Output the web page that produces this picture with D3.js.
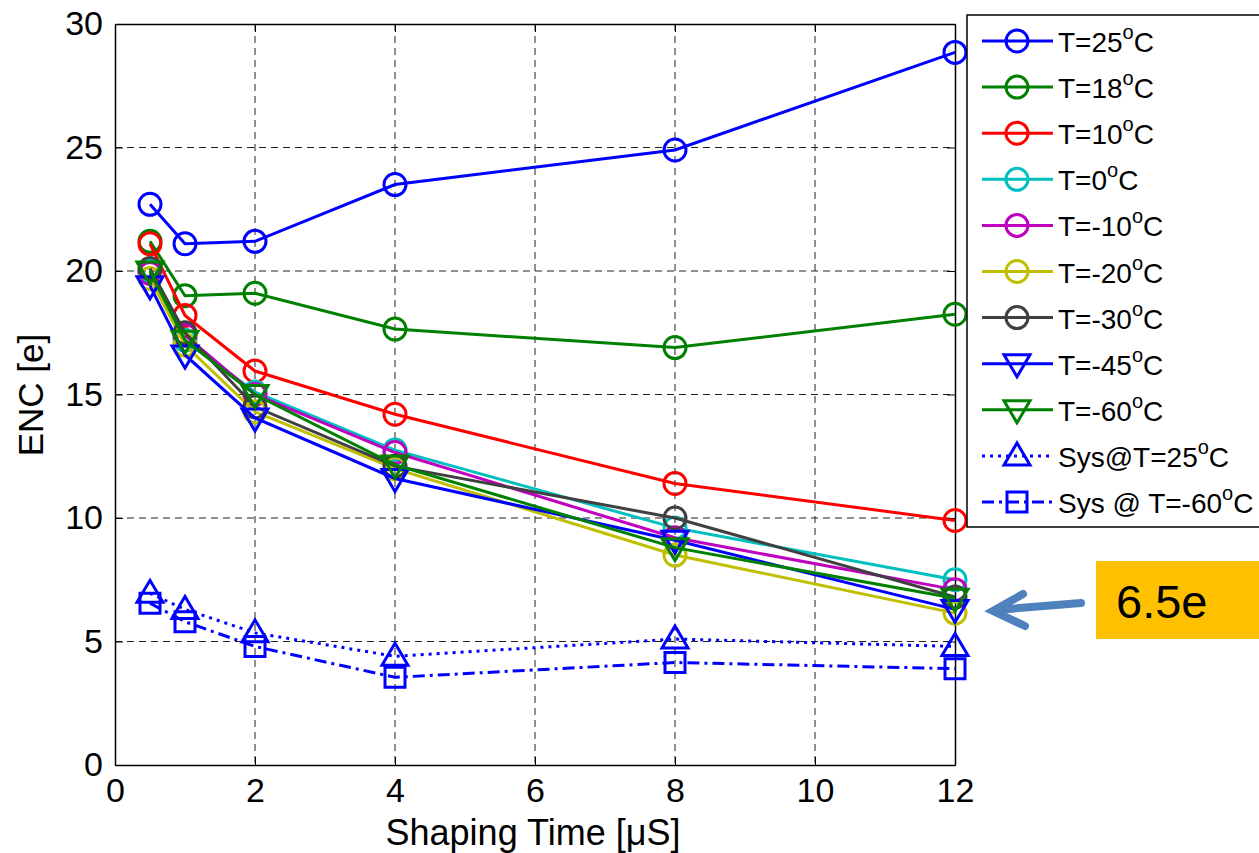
<!DOCTYPE html>
<html>
<head>
<meta charset="utf-8">
<script src="https://cdn.jsdelivr.net/npm/d3@7"></script>
<style>
  body { margin: 0; background: #fff; }
  svg text { font-family: "Liberation Sans", Arial, sans-serif; fill: #000; }
</style>
</head>
<body>
<svg id="chart" width="1259" height="853"></svg>
<script>
// shaping times (µS)
const times = [0.5, 1, 2, 4, 8, 12];

// ENC values [e]
const t25  = [22.7, 21.1, 21.2, 23.5, 24.9, 28.85];
const t18  = [21.2, 19.0, 19.1, 17.65, 16.9, 18.25];
const t10  = [21.1, 18.2, 15.95, 14.2, 11.4, 9.9];
const t0   = [20.0, 17.2, 15.1, 12.75, 9.6, 7.5];
const tm10 = [19.9, 17.4, 15.0, 12.65, 9.2, 7.1];
const tm20 = [19.7, 17.0, 14.3, 12.0, 8.5, 6.15];
const tm30 = [20.1, 17.5, 14.5, 12.1, 10.0, 6.8];
const tm45 = [19.4, 16.6, 14.05, 11.6, 9.1, 6.3];
const tm60 = [20.0, 17.2, 15.0, 12.15, 8.8, 6.75];
const sys25  = [6.95, 6.3, 5.35, 4.4, 5.1, 4.8];
const sysm60 = [6.55, 5.8, 4.8, 3.55, 4.15, 3.9];

const seriesNames = ['T=25', 'T=18', 'T=10', 'T=0', 'T=-10', 'T=-20', 'T=-30', 'T=-45', 'T=-60', 'Sys@T=25', 'Sys @ T=-60'];
const seriesValues = [t25, t18, t10, t0, tm10, tm20, tm30, tm45, tm60, sys25, sysm60];
const seriesColors = ['#0000ff', '#008000', '#ff0000', '#00bfbf', '#bf00bf', '#bfbf00', '#404040', '#0000ff', '#008000', '#0000ff', '#0000ff'];
const seriesMarkers = ['circle', 'circle', 'circle', 'circle', 'circle', 'circle', 'circle', 'tridown', 'tridown', 'triup', 'square'];
const seriesDash = [null, null, null, null, null, null, null, null, null, '3,5', '12,5,3,5'];

const xTicks = [0, 2, 4, 6, 8, 10, 12];
const yTicks = [0, 5, 10, 15, 20, 25, 30];

const svg = d3.select('#chart');
const margin = {left: 115, right: 955, top: 24, bottom: 765};

const x = d3.scaleLinear().domain([0, 12]).range([margin.left, margin.right]);
const y = d3.scaleLinear().domain([0, 30]).range([margin.bottom, margin.top]);

// grid
const grid = svg.append('g').attr('stroke', '#222').attr('stroke-width', 1).attr('stroke-dasharray', '7,5');
grid.selectAll('.gx').data(xTicks.filter(d => d > 0 && d < 12)).join('line')
    .attr('x1', d => x(d)).attr('x2', d => x(d)).attr('y1', margin.top).attr('y2', margin.bottom);
grid.selectAll('.gy').data(yTicks.filter(d => d > 0 && d < 30)).join('line')
    .attr('y1', d => y(d)).attr('y2', d => y(d)).attr('x1', margin.left).attr('x2', margin.right);

// axes (MATLAB style, ticks inward)
const xAxis = d3.axisBottom(x).tickValues(xTicks).tickSize(-8).tickSizeOuter(0).tickPadding(13);
const yAxis = d3.axisLeft(y).tickValues(yTicks).tickSize(-8).tickSizeOuter(0).tickPadding(12);

const xg = svg.append('g').attr('transform', `translate(0,${margin.bottom})`).call(xAxis);
const yg = svg.append('g').attr('transform', `translate(${margin.left},0)`).call(yAxis);
svg.append('g').attr('transform', `translate(0,${margin.top})`).call(d3.axisTop(x).tickValues(xTicks).tickSize(-8).tickSizeOuter(0).tickFormat(''));
svg.append('g').attr('transform', `translate(${margin.right},0)`).call(d3.axisRight(y).tickValues(yTicks).tickSize(-8).tickSizeOuter(0).tickFormat(''));
svg.selectAll('.domain').attr('stroke', '#000').attr('stroke-width', 1.5);
svg.selectAll('.tick line').attr('stroke', '#000');
[xg, yg].forEach(g => g.selectAll('text').style('font-size', '34px').attr('fill', '#000'));
xg.selectAll('text').attr('dy', '0.72em');

// axis titles
svg.append('text').attr('x', 533).attr('y', 845).attr('text-anchor', 'middle')
    .style('font-size', '36px').text('Shaping Time [\u03BCS]');
svg.append('text').attr('transform', 'translate(43,395) rotate(-90)').attr('text-anchor', 'middle')
    .style('font-size', '35px').text('ENC [e]');

function markerPath(type) {
    if (type === 'tridown') return 'M-13,-9L13,-9L0,13Z';
    if (type === 'triup') return 'M-13,9L13,9L0,-13Z';
    if (type === 'square') return 'M-10,-10L10,-10L10,10L-10,10Z';
    return d3.symbol(d3.symbolCircle, Math.PI * 11 * 11)();
}

const line = d3.line().x(d => x(d[0])).y(d => y(d[1]));

seriesValues.forEach((vals, i) => {
    const pts = times.map((t, j) => [t, vals[j]]);
    const g = svg.append('g');
    g.append('path').datum(pts)
        .attr('d', line).attr('fill', 'none')
        .attr('stroke', seriesColors[i]).attr('stroke-width', 3)
        .attr('stroke-dasharray', seriesDash[i]);
    g.selectAll('path.m').data(pts).join('path')
        .attr('class', 'm')
        .attr('transform', d => `translate(${x(d[0])},${y(d[1])})`)
        .attr('d', markerPath(seriesMarkers[i]))
        .attr('fill', 'none').attr('stroke', seriesColors[i]).attr('stroke-width', 3);
});

// legend
const lg = svg.append('g');
lg.append('rect').attr('x', 967).attr('y', 15).attr('width', 300).attr('height', 512)
    .attr('fill', '#fff').attr('stroke', '#000').attr('stroke-width', 1.5);
seriesNames.forEach((name, i) => {
    const ly = 41 + i * 46.1;
    lg.append('line').attr('x1', 982).attr('x2', 1053).attr('y1', ly).attr('y2', ly)
        .attr('stroke', seriesColors[i]).attr('stroke-width', 3).attr('stroke-dasharray', seriesDash[i]);
    lg.append('path').attr('transform', `translate(1017,${ly})`)
        .attr('d', markerPath(seriesMarkers[i]))
        .attr('fill', 'none').attr('stroke', seriesColors[i]).attr('stroke-width', 3);
    const t = lg.append('text').attr('x', 1058).attr('y', ly + 11).style('font-size', '28px');
    t.append('tspan').text(name);
    t.append('tspan').attr('dy', -13).style('font-size', '20px').text('o');
    t.append('tspan').attr('dy', 13).text('C');
});

// annotation
svg.append('rect').attr('x', 1096).attr('y', 561).attr('width', 170).attr('height', 78).attr('fill', '#ffc000');
svg.append('text').attr('x', 1116).attr('y', 618).style('font-size', '47px').text('6.5e');
const arrowColor = '#4f81bd';
const ag = svg.append('g').attr('stroke', arrowColor).attr('stroke-width', 8).attr('stroke-linecap', 'round').attr('fill', 'none');
ag.append('line').attr('x1', 1081).attr('y1', 603).attr('x2', 996).attr('y2', 610);
ag.append('path').attr('d', 'M1023,594L993,611L1025,626');
</script>
</body>
</html>
